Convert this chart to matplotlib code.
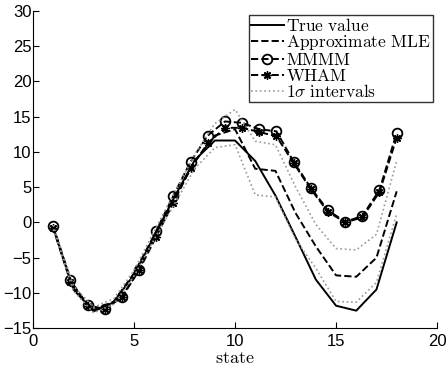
import numpy as np
import matplotlib.pyplot as plt

plt.rcParams['mathtext.fontset'] = 'cm'
plt.rcParams['font.family'] = ['Liberation Sans', 'DejaVu Sans']

# states for true value / MLE / intervals
states = np.arange(1, 19)
true_value = [-0.8, -9.5, -12.6, -11.3, -7.4, -2.0, 3.6, 8.8, 11.6, 11.6,
              8.7, 3.8, -2.1, -8.1, -11.8, -12.5, -9.5, 0.0]
approx_mle = [-0.7, -9.3, -12.4, -11.2, -7.2, -1.8, 3.4, 8.6, 12.3, 13.2,
              7.6, 7.3, 1.3, -3.4, -7.5, -7.7, -5.0, 4.4]
upper_1s = [-0.4, -9.0, -12.0, -10.8, -6.8, -1.2, 4.2, 9.6, 14.0, 16.0,
            11.5, 11.0, 5.0, -0.3, -3.7, -3.9, -1.7, 8.7]
lower_1s = [-1.0, -9.7, -12.8, -11.6, -7.6, -2.4, 2.6, 7.6, 10.6, 11.0,
            3.9, 3.6, -2.4, -6.5, -11.2, -11.3, -8.5, 1.2]

# MMMM / WHAM sampled on a finer grid
grid = np.linspace(1, 18, 21)
mmmm = [-0.5, -8.2, -11.7, -12.3, -10.5, -6.7, -1.2, 3.8, 8.6, 12.3, 14.3,
        14.1, 13.2, 12.9, 8.6, 4.9, 1.7, 0.1, 0.9, 4.6, 12.7]
wham = [-0.8, -8.4, -11.8, -12.3, -10.6, -6.8, -2.0, 2.8, 7.7, 11.2, 13.4,
        13.4, 12.8, 12.2, 8.4, 4.7, 1.5, 0.0, 0.7, 4.3, 12.0]

fig = plt.figure(figsize=(4.46, 3.66), dpi=100)
ax = fig.add_axes([0.074, 0.103, 0.906, 0.868])

ax.plot(states, true_value, '-', color='k', lw=1.4, label=r'$\mathrm{True\ value}$')
ax.plot(states, approx_mle, '--', color='k', lw=1.4, label=r'$\mathrm{Approximate\ MLE}$')
ax.plot(grid, mmmm, '--', color='k', lw=1.4, marker='o', ms=7, mfc='none',
        mec='k', mew=1.3, label=r'$\mathrm{MMMM}$')
ax.plot(grid, wham, '--', color='k', lw=1.4, marker=(8, 2, 0), ms=6,
        mec='k', mew=1.0, label=r'$\mathrm{WHAM}$')
ax.plot(states, upper_1s, ':', color='#999999', lw=1.2, label=r'$1\sigma\ \mathrm{intervals}$')
ax.plot(states, lower_1s, ':', color='#999999', lw=1.2)

ax.set_xlim(0, 20)
ax.set_ylim(-15, 30)
ax.set_xticks([0, 5, 10, 15, 20])
ax.set_yticks(range(-15, 31, 5))
ax.tick_params(direction='in', length=4, labelsize=12)
ax.tick_params(axis='x', pad=4)
ax.tick_params(axis='y', pad=1)
ax.spines['top'].set_visible(False)
ax.spines['right'].set_visible(False)
ax.set_xlabel(r'$\mathrm{state}$', fontsize=13, labelpad=1)

leg = ax.legend(loc='upper right', fontsize=12.5, frameon=True, fancybox=False,
                borderaxespad=0.25, borderpad=0.1, labelspacing=-0.02,
                handlelength=1.9, handletextpad=0.15)
leg.get_frame().set_edgecolor('k')
leg.get_frame().set_linewidth(1.0)

fig.savefig('out.png', dpi=100)
